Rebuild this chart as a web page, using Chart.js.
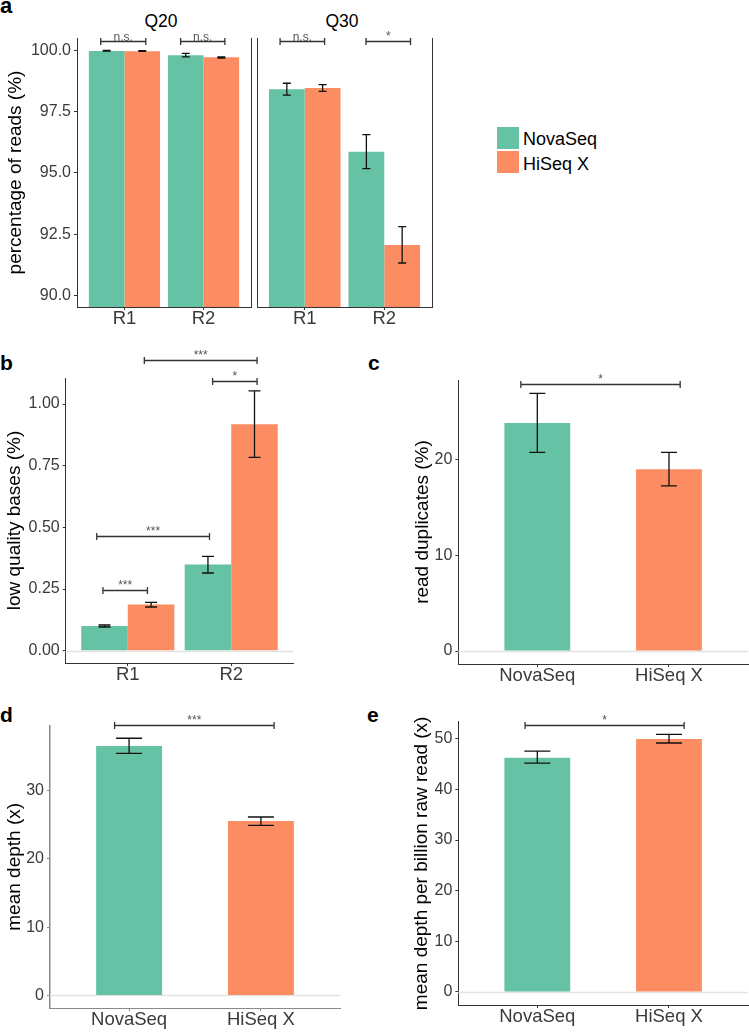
<!DOCTYPE html>
<html>
<head>
<meta charset="utf-8">
<script src="https://cdn.jsdelivr.net/npm/chart.js@4.4.1/dist/chart.umd.min.js"></script>
<style>
  body { margin: 0; background: #fff; font-family: "Liberation Sans", Arial, sans-serif; }
  #fig { position: relative; width: 749px; height: 1033px; overflow: hidden; }
  #fig canvas { position: absolute; }
  .txt { position: absolute; line-height: 1; white-space: nowrap; color: #000; }
  .tag { font-weight: bold; font-size: 21px; }
  .strip { font-size: 17.5px; width: 80px; text-align: center; }
  .key { position: absolute; width: 22px; height: 22px; }
  .keytxt { font-size: 18px; }
</style>
</head>
<body>
<div id="fig">
  <div class="txt tag" style="left:0;top:-5px;font-size:22px">a</div>
  <div class="txt tag" style="left:0;top:352px">b</div>
  <div class="txt tag" style="left:368px;top:352px">c</div>
  <div class="txt tag" style="left:0;top:704px">d</div>
  <div class="txt tag" style="left:367px;top:704px">e</div>
  <div class="txt strip" id="strip1" style="left:121px;top:13px"></div>
  <div class="txt strip" id="strip2" style="left:302px;top:13px"></div>
  <div class="key" id="key1" style="left:497px;top:127px"></div>
  <div class="key" id="key2" style="left:497px;top:151px"></div>
  <div class="txt keytxt" id="keytxt1" style="left:523px;top:130px"></div>
  <div class="txt keytxt" id="keytxt2" style="left:523px;top:155px"></div>
</div>
<script>
// ---- data ----
const platforms = ['NovaSeq', 'HiSeq X'];
const platformColors = ['#66C2A5', '#FC8D62'];
const reads = ['R1', 'R2'];
const facets = ['Q20', 'Q30'];

// a: percentage of reads (%), per read (R1, R2)
const q20Nova = [99.99, 99.81];
const q20NovaLo = [99.98, 99.75];
const q20NovaHi = [100.01, 99.89];
const q20Hiseq = [99.98, 99.73];
const q20HiseqLo = [99.97, 99.70];
const q20HiseqHi = [100.0, 99.75];

const q30Nova = [98.42, 95.87];
const q30NovaLo = [98.18, 95.18];
const q30NovaHi = [98.67, 96.57];
const q30Hiseq = [98.48, 92.06];
const q30HiseqLo = [98.34, 91.32];
const q30HiseqHi = [98.61, 92.81];

const aTicks = [90, 92.5, 95, 97.5, 100];
const aTickLabels = ['90.0', '92.5', '95.0', '97.5', '100.0'];
// significance brackets: [from, to, height, label]
const q20Sig = [[0.70, 1.27, 100.40, 'n.s.'], [1.71, 2.27, 100.40, 'n.s.']];
const q30Sig = [[0.69, 1.25, 100.40, 'n.s.'], [1.77, 2.33, 100.40, '*']];

// b: low quality bases (%)
const lowQualNova = [0.100, 0.349];
const lowQualNovaLo = [0.096, 0.315];
const lowQualNovaHi = [0.104, 0.382];
const lowQualHiseq = [0.187, 0.918];
const lowQualHiseqLo = [0.177, 0.784];
const lowQualHiseqHi = [0.196, 1.053];
const bTicks = [0, 0.25, 0.5, 0.75, 1.0];
const bTickLabels = ['0.00', '0.25', '0.50', '0.75', '1.00'];
const bSig = [[0.76, 1.19, 0.245, '***'], [0.70, 1.79, 0.464, '***'],
              [1.82, 2.25, 1.093, '*'], [1.16, 2.25, 1.177, '***']];

// c: read duplicates (%)
const dupValues = [23.87, 19.03];
const dupLo = [20.79, 17.27];
const dupHi = [26.96, 20.79];
const cTicks = [0, 10, 20];
const cSig = [[0.875, 2.085, 27.9, '*']];

// d: mean depth (x)
const depthValues = [36.54, 25.56];
const depthLo = [35.47, 24.92];
const depthHi = [37.67, 26.14];
const dTicks = [0, 10, 20, 30];
const dSig = [[0.89, 2.10, 39.65, '***']];

// e: mean depth per billion raw read (x)
const depthPerBValues = [46.25, 49.94];
const depthPerBLo = [45.2, 49.15];
const depthPerBHi = [47.57, 50.86];
const eTicks = [0, 10, 20, 30, 40, 50];
const eSig = [[0.907, 2.115, 52.64, '*']];

// ---- html bits ----
document.getElementById('strip1').textContent = facets[0];
document.getElementById('strip2').textContent = facets[1];
document.getElementById('key1').style.background = platformColors[0];
document.getElementById('key2').style.background = platformColors[1];
document.getElementById('keytxt1').textContent = platforms[0];
document.getElementById('keytxt2').textContent = platforms[1];

const FONT = '"Liberation Sans", Arial, sans-serif';
const fig = document.getElementById('fig');

// error bars, significance brackets, zero line, facet border
function decor(o) {
  return {
    id: 'decor',
    beforeDatasetsDraw(chart) {
      if (!o.zeroLine) return;
      const ctx = chart.ctx, a = chart.chartArea;
      const y0 = Math.round(chart.scales.y.getPixelForValue(0)) + 0.5;
      ctx.save();
      ctx.strokeStyle = '#e3e3e3';
      ctx.lineWidth = 1.5;
      ctx.beginPath();
      ctx.moveTo(a.left, y0);
      ctx.lineTo(a.right, y0);
      ctx.stroke();
      ctx.restore();
    },
    afterDatasetsDraw(chart) {
      const ctx = chart.ctx, ys = chart.scales.y, xs = chart.scales.x, a = chart.chartArea;
      ctx.save();
      // error bars
      ctx.strokeStyle = '#111';
      ctx.lineWidth = 1.3;
      chart.data.datasets.forEach((ds, i) => {
        chart.getDatasetMeta(i).data.forEach((bar, j) => {
          const top = ys.getPixelForValue(ds.hi[j]);
          const bot = ys.getPixelForValue(ds.lo[j]);
          const hw = o.cap / 2;
          ctx.beginPath();
          ctx.moveTo(bar.x, top); ctx.lineTo(bar.x, bot);
          ctx.moveTo(bar.x - hw, top); ctx.lineTo(bar.x + hw, top);
          ctx.moveTo(bar.x - hw, bot); ctx.lineTo(bar.x + hw, bot);
          ctx.stroke();
        });
      });
      // significance brackets
      ctx.strokeStyle = '#333';
      ctx.lineWidth = 1.3;
      ctx.fillStyle = '#555';
      ctx.font = '12px ' + FONT;
      ctx.textAlign = 'center';
      ctx.textBaseline = 'alphabetic';
      o.sig.forEach(s => {
        const x1 = xs.getPixelForValue(s[0]);
        const x2 = xs.getPixelForValue(s[1]);
        const y = Math.round(ys.getPixelForValue(s[2])) + 0.5;
        ctx.beginPath();
        ctx.moveTo(x1, y); ctx.lineTo(x2, y);
        ctx.moveTo(x1, y - 3.5); ctx.lineTo(x1, y + 3.5);
        ctx.moveTo(x2, y - 3.5); ctx.lineTo(x2, y + 3.5);
        ctx.stroke();
        ctx.fillText(s[3], (x1 + x2) / 2, y - (s[3] === 'n.s.' ? 1 : 1.5));
      });
      // right border of facet panels
      if (o.rightBorder) {
        const xr = Math.round(a.right) + 0.5;
        ctx.strokeStyle = o.axisColor;
        ctx.lineWidth = 1;
        ctx.beginPath();
        ctx.moveTo(xr, a.top); ctx.lineTo(xr, a.bottom);
        ctx.stroke();
      }
      ctx.restore();
    }
  };
}

function panel(p) {
  const cv = document.createElement('canvas');
  const w = Math.ceil(p.plot[2] - p.left + 3);
  const h = Math.round(p.plot[3] + p.bottomH - p.top);
  cv.width = w; cv.height = h;
  cv.style.left = p.left + 'px';
  cv.style.top = p.top + 'px';
  cv.style.width = w + 'px';
  cv.style.height = h + 'px';
  fig.appendChild(cv);
  const axisColor = p.axisColor || '#333';
  const showY = p.yTicks.length > 0;
  return new Chart(cv, {
    type: 'bar',
    data: { datasets: p.datasets },
    options: {
      responsive: false,
      animation: false,
      devicePixelRatio: 1,
      layout: { padding: { top: p.plot[1] - p.top, right: w - (p.plot[2] - p.left), left: 0, bottom: 0 } },
      plugins: { legend: { display: false }, tooltip: { enabled: false } },
      datasets: { bar: { categoryPercentage: p.catPct, barPercentage: 1, borderWidth: 0 } },
      scales: {
        x: {
          type: 'linear', offset: false, min: 0.4, max: 2.6,
          grid: { display: true, drawOnChartArea: false, drawTicks: true, tickLength: 3, color: axisColor, offset: false },
          border: { display: true, color: axisColor, width: 1 },
          ticks: {
            autoSkip: false, maxRotation: 0, padding: -2, color: '#3a3a3a',
            font: { family: FONT, size: 18.5 },
            callback: (v, i) => p.cats[i]
          },
          afterBuildTicks: s => { s.ticks = p.cats.map((c, i) => ({ value: i + 1 })); },
          afterFit: s => { s.height = p.bottomH; }
        },
        y: {
          min: p.yMin, max: p.yMax,
          grid: { display: true, drawOnChartArea: false, drawTicks: showY, tickLength: 3, color: axisColor },
          border: { display: true, color: axisColor, width: p.axisWidth || 1 },
          ticks: {
            display: showY, padding: 3, color: '#3a3a3a',
            font: { family: FONT, size: 16 },
            callback: (v, i) => p.yLabels[i]
          },
          afterBuildTicks: s => { s.ticks = p.yTicks.map(v => ({ value: v })); },
          title: {
            display: !!p.yTitle, text: p.yTitle, color: '#000',
            font: { family: FONT, size: 19 }, padding: { top: p.titlePad, bottom: 0 }
          },
          afterFit: s => { s.width = p.plot[0] - p.left; }
        }
      }
    },
    plugins: [decor({ cap: p.cap, sig: p.sig, zeroLine: p.zeroLine, rightBorder: p.rightBorder, axisColor: axisColor })]
  });
}

function groupedSets(nova, novaLo, novaHi, hiseq, hiseqLo, hiseqHi) {
  return [
    { label: platforms[0], data: nova.map((v, i) => ({ x: i + 1, y: v })), lo: novaLo, hi: novaHi,
      backgroundColor: platformColors[0] },
    { label: platforms[1], data: hiseq.map((v, i) => ({ x: i + 1, y: v })), lo: hiseqLo, hi: hiseqHi,
      backgroundColor: platformColors[1] }
  ];
}

function singleSet(values, lo, hi) {
  return [{ data: values.map((v, i) => ({ x: i + 1, y: v })), lo: lo, hi: hi, backgroundColor: platformColors }];
}

// a: Q20 facet
panel({
  left: 0, top: 20, plot: [77, 38, 251, 307], bottomH: 30,
  datasets: groupedSets(q20Nova, q20NovaLo, q20NovaHi, q20Hiseq, q20HiseqLo, q20HiseqHi),
  cats: reads, catPct: 0.9, yMin: 89.52, yMax: 100.52,
  yTicks: aTicks, yLabels: aTickLabels, yTitle: 'percentage of reads (%)', titlePad: 4,
  cap: 8, sig: q20Sig, rightBorder: true
});
// a: Q30 facet
panel({
  left: 254, top: 20, plot: [257, 38, 432, 307], bottomH: 30,
  datasets: groupedSets(q30Nova, q30NovaLo, q30NovaHi, q30Hiseq, q30HiseqLo, q30HiseqHi),
  cats: reads, catPct: 0.9, yMin: 89.52, yMax: 100.52,
  yTicks: [], yLabels: [], yTitle: '', titlePad: 0,
  cap: 8, sig: q30Sig, rightBorder: true
});
// b
panel({
  left: 0, top: 340, plot: [65.7, 378, 293.3, 662.7], bottomH: 30,
  datasets: groupedSets(lowQualNova, lowQualNovaLo, lowQualNovaHi, lowQualHiseq, lowQualHiseqLo, lowQualHiseqHi),
  cats: reads, catPct: 0.9, yMin: -0.05, yMax: 1.1056,
  yTicks: bTicks, yLabels: bTickLabels, yTitle: 'low quality bases (%)', titlePad: 3,
  cap: 12, sig: bSig, zeroLine: true
});
// c
panel({
  left: 400, top: 350, plot: [458.3, 380, 748, 664.3], bottomH: 30,
  datasets: singleSet(dupValues, dupLo, dupHi),
  cats: platforms, catPct: 0.5, yMin: -1.36, yMax: 28.36,
  yTicks: cTicks, yLabels: cTicks.map(String), yTitle: 'read duplicates (%)', titlePad: 11,
  cap: 16, sig: cSig, zeroLine: true
});
// d
panel({
  left: 0, top: 700, plot: [50, 725.7, 340, 1008.3], bottomH: 25,
  datasets: singleSet(depthValues, depthLo, depthHi),
  cats: platforms, catPct: 0.5, yMin: -1.84, yMax: 39.51,
  yTicks: dTicks, yLabels: dTicks.map(String), yTitle: 'mean depth (x)', titlePad: 3,
  cap: 26, sig: dSig, zeroLine: true, axisColor: '#8a8a8a', axisWidth: 1.5
});
// e
panel({
  left: 400, top: 700, plot: [458.3, 721.7, 748, 1005], bottomH: 28,
  datasets: singleSet(depthPerBValues, depthPerBLo, depthPerBHi),
  cats: platforms, catPct: 0.5, yMin: -2.57, yMax: 53.36,
  yTicks: eTicks, yLabels: eTicks.map(String), yTitle: 'mean depth per billion raw read (x)', titlePad: 10,
  cap: 26, sig: eSig, zeroLine: true
});
</script>
</body>
</html>
